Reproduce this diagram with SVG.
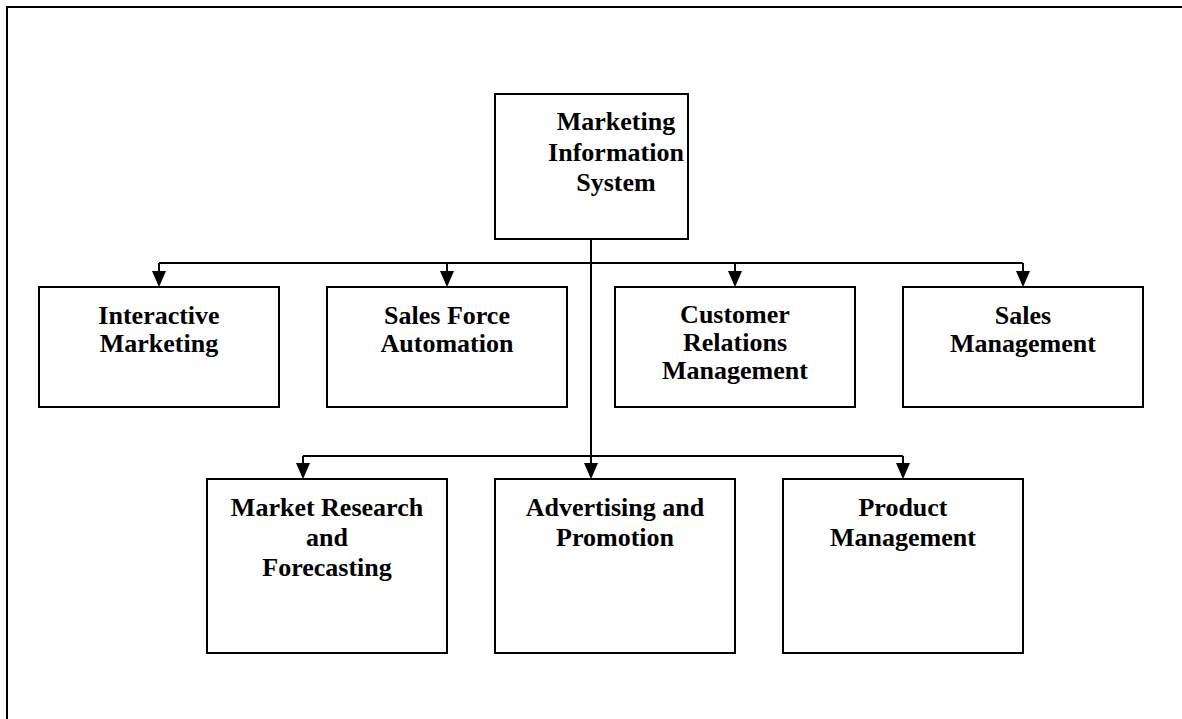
<svg xmlns="http://www.w3.org/2000/svg" width="1182" height="719" viewBox="0 0 1182 719">
<defs>
<style>
.box{fill:#fff;stroke:#000;stroke-width:2}
.lbl{font-family:"Liberation Serif","Times New Roman",serif;font-weight:bold;font-size:26px;text-anchor:middle;fill:#000}
.con{fill:none;stroke:#000;stroke-width:2}
.frame{fill:none;stroke:#000;stroke-width:2}
.arr{fill:#000}
</style>
</defs>
<rect width="1182" height="719" fill="#fff"/>
<path class="frame" d="M7,719 V7 H1182"/>
<g id="connectors">
<path class="con" d="M591,239 V470"/>
<path class="con" d="M159,263 H1023"/>
<path class="con" d="M303,456 H903"/>
<path class="con" d="M159,263 V275"/>
<path class="con" d="M447,263 V275"/>
<path class="con" d="M735,263 V275"/>
<path class="con" d="M1023,263 V275"/>
<path class="con" d="M303,456 V468"/>
<path class="con" d="M903,456 V468"/>
<path class="arr" d="M152,271 L166,271 L159,287 Z"/>
<path class="arr" d="M440,271 L454,271 L447,287 Z"/>
<path class="arr" d="M728,271 L742,271 L735,287 Z"/>
<path class="arr" d="M1016,271 L1030,271 L1023,287 Z"/>
<path class="arr" d="M296,463 L310,463 L303,479 Z"/>
<path class="arr" d="M584,463 L598,463 L591,479 Z"/>
<path class="arr" d="M896,463 L910,463 L903,479 Z"/>
</g>
<g id="mis">
<rect class="box" x="495" y="94" width="193" height="145"/>
<text class="lbl"><tspan x="616" y="130">Marketing</tspan><tspan x="616" y="161">Information</tspan><tspan x="616" y="191">System</tspan></text>
</g>
<g id="interactive-marketing">
<rect class="box" x="39" y="287" width="240" height="120"/>
<text class="lbl"><tspan x="159" y="324">Interactive</tspan><tspan x="159" y="352">Marketing</tspan></text>
</g>
<g id="sales-force-automation">
<rect class="box" x="327" y="287" width="240" height="120"/>
<text class="lbl"><tspan x="447" y="324">Sales Force</tspan><tspan x="447" y="352">Automation</tspan></text>
</g>
<g id="crm">
<rect class="box" x="615" y="287" width="240" height="120"/>
<text class="lbl"><tspan x="735" y="323">Customer</tspan><tspan x="735" y="351">Relations</tspan><tspan x="735" y="379">Management</tspan></text>
</g>
<g id="sales-management">
<rect class="box" x="903" y="287" width="240" height="120"/>
<text class="lbl"><tspan x="1023" y="324">Sales</tspan><tspan x="1023" y="352">Management</tspan></text>
</g>
<g id="market-research">
<rect class="box" x="207" y="479" width="240" height="174"/>
<text class="lbl"><tspan x="327" y="516">Market Research</tspan><tspan x="327" y="546">and</tspan><tspan x="327" y="576">Forecasting</tspan></text>
</g>
<g id="advertising">
<rect class="box" x="495" y="479" width="240" height="174"/>
<text class="lbl"><tspan x="615" y="516">Advertising and</tspan><tspan x="615" y="546">Promotion</tspan></text>
</g>
<g id="product-management">
<rect class="box" x="783" y="479" width="240" height="174"/>
<text class="lbl"><tspan x="903" y="516">Product</tspan><tspan x="903" y="546">Management</tspan></text>
</g>
</svg>
